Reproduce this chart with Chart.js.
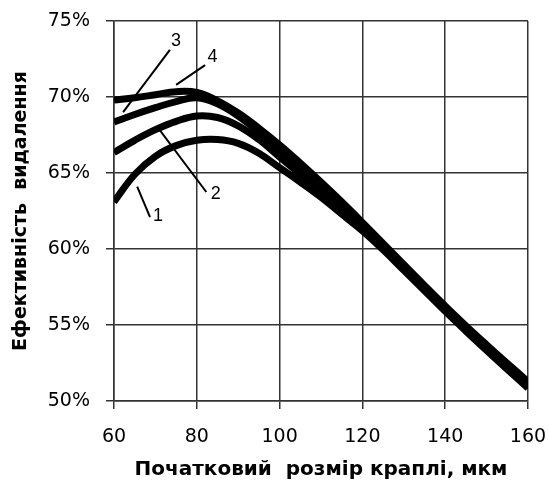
<!DOCTYPE html>
<html>
<head>
<meta charset="utf-8">
<script src="https://cdn.jsdelivr.net/npm/chart.js@4/dist/chart.umd.min.js"></script>
<style>
  html, body { margin: 0; padding: 0; background: #fff; }
  #wrap { width: 549px; height: 487px; }
</style>
</head>
<body>
<div id="wrap"><canvas id="c" width="549" height="487"></canvas></div>
<script>
// Initial droplet size, µm
const sizes  = [60, 65, 70, 75, 80, 85, 90, 95, 100, 105, 110, 115, 120, 125, 130, 135, 140, 145, 150, 155, 160];
// Removal efficiency, %
const curve1 = [63.1, 64.9, 66.1, 66.8, 67.15, 67.2, 66.95, 66.3, 65.35, 64.4, 63.4, 62.3, 61.2, 59.95, 58.6, 57.25, 55.9, 54.6, 53.33, 52.08, 50.85];
const curve2 = [66.35, 67.15, 67.85, 68.4, 68.75, 68.65, 68.1, 67.2, 66.05, 64.92, 63.8, 62.6, 61.4, 60.12, 58.75, 57.4, 56.04, 54.74, 53.48, 52.24, 51.02];
const curve3 = [68.35, 68.85, 69.3, 69.7, 69.95, 69.55, 68.75, 67.7, 66.55, 65.38, 64.15, 62.9, 61.6, 60.27, 58.88, 57.51, 56.16, 54.86, 53.61, 52.38, 51.17];
const curve4 = [69.8, 69.95, 70.15, 70.35, 70.3, 69.75, 68.95, 67.95, 66.85, 65.65, 64.4, 63.1, 61.75, 60.37, 58.98, 57.6, 56.25, 54.95, 53.7, 52.48, 51.28];
const yTicks = [50, 55, 60, 65, 70, 75];

// Curve numbers with their leader lines (data units)
const labelText = ['1', '2', '3', '4'];
const labelAt   = [[70.6, 62.2], [84.6, 63.6], [75.0, 73.7], [83.8, 72.6]];
const leaderFrom = [[65.6, 64.1], [71.1, 67.8], [62.2, 69.0], [75.0, 70.8]];
const leaderTo   = [[68.7, 62.1], [82.3, 63.75], [73.5, 73.1], [82.0, 72.1]];

const series = [curve1, curve2, curve3, curve4];

const curveNumbers = {
  id: 'curveNumbers',
  afterDatasetsDraw(chart) {
    const { ctx, scales: { x, y } } = chart;
    ctx.save();
    ctx.strokeStyle = '#000';
    ctx.lineWidth = 2;
    for (let i = 0; i < labelText.length; i++) {
      ctx.beginPath();
      ctx.moveTo(x.getPixelForValue(leaderFrom[i][0]), y.getPixelForValue(leaderFrom[i][1]));
      ctx.lineTo(x.getPixelForValue(leaderTo[i][0]), y.getPixelForValue(leaderTo[i][1]));
      ctx.stroke();
    }
    ctx.fillStyle = '#000';
    ctx.font = '18px "Liberation Sans", Arial, sans-serif';
    ctx.textAlign = 'center';
    ctx.textBaseline = 'middle';
    for (let i = 0; i < labelText.length; i++) {
      ctx.fillText(labelText[i], x.getPixelForValue(labelAt[i][0]), y.getPixelForValue(labelAt[i][1]));
    }
    ctx.restore();
  }
};

new Chart(document.getElementById('c'), {
  type: 'line',
  data: {
    datasets: series.map((s, i) => ({
      label: labelText[i],
      data: sizes.map((v, k) => ({ x: v, y: s[k] })),
      borderColor: '#000',
      borderWidth: 7,
      pointRadius: 0,
      tension: 0.4,
      fill: false,
      clip: 0
    }))
  },
  options: {
    responsive: false,
    animation: false,
    devicePixelRatio: 1,
    layout: { padding: { left: 0, right: 21, top: 21, bottom: 0 } },
    plugins: { legend: { display: false }, tooltip: { enabled: false } },
    scales: {
      x: {
        type: 'linear',
        min: 60, max: 160,
        afterFit(scale) {
          scale.height = 86;
          scale.paddingLeft = 0;
          scale.paddingRight = 0;
        },
        ticks: {
          stepSize: 20,
          color: '#000',
          padding: 17,
          font: { family: '"DejaVu Sans", Verdana, sans-serif', size: 19 }
        },
        grid: { color: '#333', lineWidth: 1.5, tickLength: 8 },
        border: { color: '#333', width: 1.5 },
        title: {
          display: true,
          text: 'Початковий  розмір краплі, мкм',
          color: '#000',
          padding: { top: 0, bottom: 5 },
          font: { family: '"DejaVu Sans", Verdana, sans-serif', size: 20, weight: 'bold' }
        }
      },
      y: {
        min: 50, max: 75,
        afterFit(scale) {
          scale.width = 114;
          scale.paddingTop = 0;
          scale.paddingBottom = 0;
        },
        afterBuildTicks(scale) { scale.ticks = yTicks.map(v => ({ value: v })); },
        ticks: {
          color: '#000',
          padding: 16,
          font: { family: '"DejaVu Sans", Verdana, sans-serif', size: 19 },
          callback: v => v + '%'
        },
        grid: { color: '#333', lineWidth: 1.5, tickLength: 8 },
        border: { color: '#333', width: 1.5 },
        title: {
          display: true,
          text: 'Ефективність  видалення',
          color: '#000',
          padding: { top: 10, bottom: 0 },
          font: { family: '"DejaVu Sans", Verdana, sans-serif', size: 19, weight: 'bold' }
        }
      }
    }
  },
  plugins: [curveNumbers]
});
</script>
</body>
</html>
